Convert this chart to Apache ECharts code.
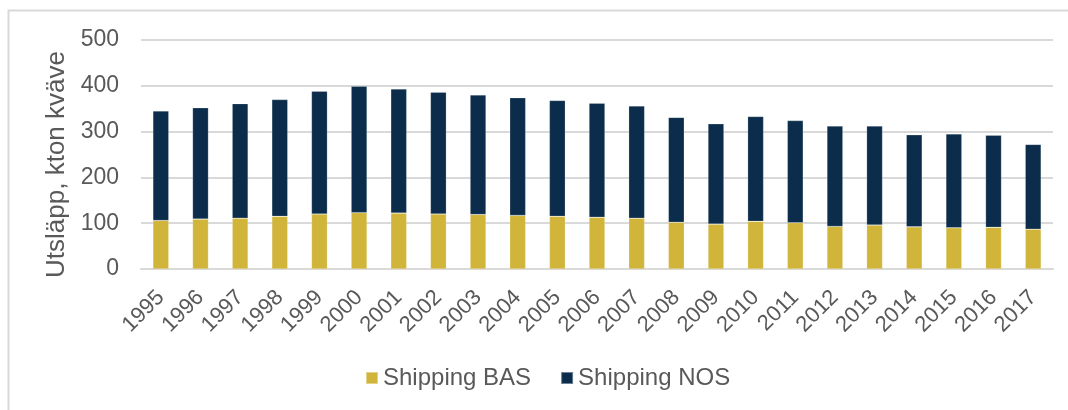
<!DOCTYPE html>
<html>
    <head>
        <meta charset="UTF-8">
        <title>Utsläpp kväve sjöfart</title>
        <script type="text/javascript" src="https://cdn.jsdelivr.net/npm/echarts@6/dist/echarts.min.js"></script>
    </head>
    <body style="margin:0;">
        <div id="main" style="width:1068px;height:410px;"></div>
        <script type="text/javascript">
            // år
            var years = ['1995','1996','1997','1998','1999','2000','2001','2002','2003','2004','2005',
                         '2006','2007','2008','2009','2010','2011','2012','2013','2014','2015','2016','2017'];
            // Shipping BAS (nedre del)
            var bas = [106,109,111,115,120,123,122,120,119,117,115,113,111,102,98,104,101,93,96,92,90,91,87];
            // Shipping NOS (övre del)
            var nos = [239,243,250,255,268,276,271,266,261,257,253,249,245,229,219,229,223,219,216,201,205,201,185];

            var myChart = echarts.init(document.getElementById('main'));
            var font = 'Liberation Sans, Arial, sans-serif';

            var option = {
                animation: false,
                textStyle: { fontFamily: font },
                graphic: [{
                    type: 'rect',
                    shape: { x: 8.5, y: 10.5, width: 1100, height: 500 },
                    style: { fill: 'none', stroke: '#d9d9d9', lineWidth: 2 },
                    silent: true
                }],
                grid: {
                    left: 141,
                    right: 15,
                    top: 40,
                    bottom: 141
                },
                legend: {
                    bottom: 15,
                    left: 360,
                    itemWidth: 12,
                    itemHeight: 12,
                    itemGap: 29,
                    icon: 'rect',
                    textStyle: { fontSize: 24, color: '#595959', fontFamily: font },
                    data: ['Shipping BAS', 'Shipping NOS']
                },
                xAxis: {
                    type: 'category',
                    data: years,
                    axisLine: { lineStyle: { color: '#d9d9d9', width: 2 } },
                    axisTick: { show: false },
                    axisLabel: {
                        rotate: 45,
                        interval: 0,
                        margin: 25,
                        fontSize: 22,
                        color: '#595959',
                        fontFamily: font
                    }
                },
                yAxis: {
                    type: 'value',
                    min: 0,
                    max: 500,
                    interval: 100,
                    name: 'Utsläpp, kton kväve',
                    nameLocation: 'middle',
                    nameGap: 68,
                    nameTextStyle: { fontSize: 26, color: '#595959', fontFamily: font, padding: [0, 20, 0, 0] },
                    axisLine: { show: false },
                    axisTick: { show: false },
                    axisLabel: { fontSize: 23, color: '#595959', margin: 22, fontFamily: font },
                    splitLine: { lineStyle: { color: '#d9d9d9', width: 2 } }
                },
                series: [
                    {
                        name: 'Shipping BAS',
                        type: 'bar',
                        stack: 'total',
                        barWidth: '40%',
                        data: bas,
                        itemStyle: { color: '#d1b53a', borderColor: 'rgba(255,255,255,0.4)', borderWidth: 0.5 }
                    },
                    {
                        name: 'Shipping NOS',
                        type: 'bar',
                        stack: 'total',
                        barWidth: '40%',
                        data: nos,
                        itemStyle: { color: '#0b2d4b', borderColor: 'rgba(255,255,255,0.4)', borderWidth: 0.5 }
                    }
                ]
            };
            myChart.setOption(option);
        </script>
    </body>
</html>
